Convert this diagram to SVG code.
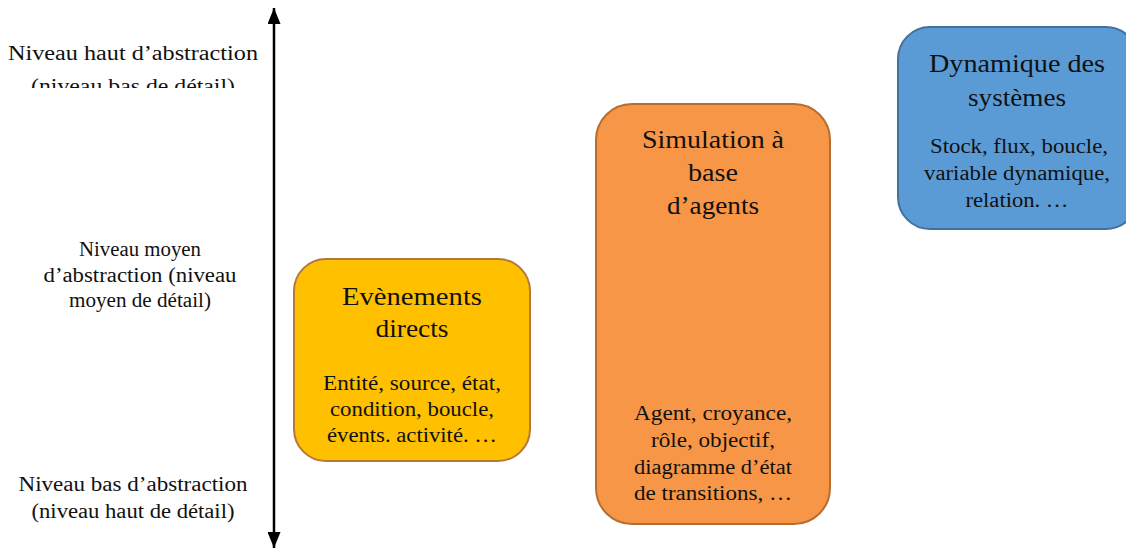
<svg xmlns="http://www.w3.org/2000/svg" width="1126" height="548" viewBox="0 0 1126 548" font-family="Liberation Serif, Times New Roman, DejaVu Serif, serif">
<style>
text{fill:#111;text-anchor:middle}
.lbl{font-size:20px}
.ttl{font-size:25px}
.body{font-size:20px}
.box{stroke-width:2}
</style>
<defs>
<marker id="ah" viewBox="0 0 16 13" refX="16" refY="6.5" markerWidth="16" markerHeight="13" markerUnits="userSpaceOnUse" orient="auto">
<path d="M0,0 L16,6.5 L0,13 Z" fill="#000"/>
</marker>
<clipPath id="topclip"><rect x="0" y="0" width="270" height="88"/></clipPath>
</defs>
<rect width="1126" height="548" fill="#fff"/>
<g id="connectors">
<line x1="274" y1="278" x2="274" y2="8" stroke="#000" stroke-width="2.5" marker-end="url(#ah)"/>
<line x1="274" y1="278" x2="274" y2="548" stroke="#000" stroke-width="2.5" marker-end="url(#ah)"/>
</g>
<g id="label-top" clip-path="url(#topclip)">
<text class="lbl" x="133" y="60" textLength="250" lengthAdjust="spacingAndGlyphs">Niveau haut d’abstraction</text>
<text class="lbl" x="133" y="93" textLength="204" lengthAdjust="spacingAndGlyphs">(niveau bas de détail)</text>
</g>
<g id="label-mid">
<text class="lbl" x="140" y="256" textLength="122" lengthAdjust="spacingAndGlyphs">Niveau moyen</text>
<text class="lbl" x="140" y="282" textLength="193" lengthAdjust="spacingAndGlyphs">d’abstraction (niveau</text>
<text class="lbl" x="140" y="307" textLength="142" lengthAdjust="spacingAndGlyphs">moyen de détail)</text>
</g>
<g id="label-bottom">
<text class="lbl" x="133" y="491" textLength="229" lengthAdjust="spacingAndGlyphs">Niveau bas d’abstraction</text>
<text class="lbl" x="133" y="518" textLength="203" lengthAdjust="spacingAndGlyphs">(niveau haut de détail)</text>
</g>
<g id="node-evenements">
<rect class="box" x="294" y="259" width="236" height="202" rx="32" fill="#FFC000" stroke="#B5773A"/>
<text class="ttl" x="412" y="305" textLength="140" lengthAdjust="spacingAndGlyphs">Evènements</text>
<text class="ttl" x="412" y="337" textLength="73" lengthAdjust="spacingAndGlyphs">directs</text>
<text class="body" x="412" y="390" textLength="178" lengthAdjust="spacingAndGlyphs">Entité, source, état,</text>
<text class="body" x="412" y="416" textLength="164" lengthAdjust="spacingAndGlyphs">condition, boucle,</text>
<text class="body" x="412" y="442" textLength="170" lengthAdjust="spacingAndGlyphs">évents. activité. …</text>
</g>
<g id="node-agents">
<rect class="box" x="596" y="104" width="234" height="420" rx="36" fill="#F79646" stroke="#B66D31"/>
<text class="ttl" x="713" y="148" textLength="142" lengthAdjust="spacingAndGlyphs">Simulation à</text>
<text class="ttl" x="713" y="181" textLength="50" lengthAdjust="spacingAndGlyphs">base</text>
<text class="ttl" x="713" y="214" textLength="92" lengthAdjust="spacingAndGlyphs">d’agents</text>
<text class="body" x="713" y="420" textLength="158" lengthAdjust="spacingAndGlyphs">Agent, croyance,</text>
<text class="body" x="713" y="447" textLength="124" lengthAdjust="spacingAndGlyphs">rôle, objectif,</text>
<text class="body" x="713" y="474" textLength="158" lengthAdjust="spacingAndGlyphs">diagramme d’état</text>
<text class="body" x="713" y="500" textLength="158" lengthAdjust="spacingAndGlyphs">de transitions, …</text>
</g>
<g id="node-dynamique">
<rect class="box" x="898" y="27" width="240" height="202" rx="32" fill="#5B9BD5" stroke="#41719C"/>
<text class="ttl" x="1017" y="72" textLength="176" lengthAdjust="spacingAndGlyphs">Dynamique des</text>
<text class="ttl" x="1017" y="106" textLength="98" lengthAdjust="spacingAndGlyphs">systèmes</text>
<text class="body" x="1019" y="153" textLength="178" lengthAdjust="spacingAndGlyphs">Stock, flux, boucle,</text>
<text class="body" x="1017" y="180" textLength="186" lengthAdjust="spacingAndGlyphs">variable dynamique,</text>
<text class="body" x="1017" y="207" textLength="103" lengthAdjust="spacingAndGlyphs">relation. …</text>
</g>
</svg>
